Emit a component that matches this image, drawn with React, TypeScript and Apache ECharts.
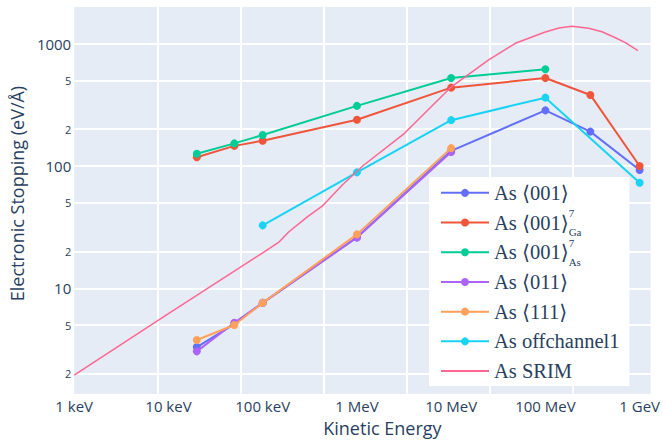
import React, { useEffect, useRef } from 'react';
import * as echarts from 'echarts';

// ---- tick labels ----
const energyTicks = [1e3, 1e4, 1e5, 1e6, 1e7, 1e8, 1e9];
const energyTickLabels = ['1 keV', '10 keV', '100 keV', '1 MeV', '10 MeV', '100 MeV', '1 GeV'];
const stoppingTicks = [2, 5, 10, 20, 50, 100, 200, 500, 1000];
const stoppingTickLabels = ['2', '5', '10', '2', '5', '100', '2', '5', '1000'];
const stoppingMajorTicks = [10, 100, 1000];

// ---- energies (eV) ----
const energyFull = [2e4, 5e4, 1e5, 1e6, 1e7, 1e8, 3e8, 1e9];
const energyAs = [2e4, 5e4, 1e5, 1e6, 1e7, 1e8];
const energyShort = [2e4, 5e4, 1e5, 1e6, 1e7];
const energyOff = [1e5, 1e6, 1e7, 1e8, 1e9];

// ---- stopping values (eV/Å) ----
const as001 = [3.31, 5.1, 7.6, 26.1, 133, 285, 191, 92.7];
const as001Ga = [118, 146, 161, 239, 437, 524, 381, 100];
const as001As = [126, 153, 179, 310, 524, 618];
const as011 = [3.05, 5.23, 7.6, 26, 130];
const as111 = [3.78, 5.01, 7.6, 27.6, 140];
const asOff = [32.7, 88.7, 237, 362, 73];

const srimEnergy = [1e3, 1e4, 1e5, 1.5e5, 1.9e5, 3e5, 4.35e5, 7e5, 1.15e6, 3.2e6, 9.8e6, 2.5e7, 4.8e7, 9.8e7, 1.39e8, 1.92e8, 2.88e8, 3.99e8, 5.53e8, 7.06e8, 9.59e8];
const srimStopping = [1.95, 6.2, 19.5, 24, 29, 38.5, 47.5, 70, 100, 185, 437, 736, 1008, 1240, 1344, 1390, 1336, 1253, 1119, 1019, 877];

const seriesNames = ['As ⟨001⟩', 'As ⟨001⟩7Ga', 'As ⟨001⟩7As', 'As ⟨011⟩', 'As ⟨111⟩', 'As offchannel1', 'As SRIM'];
const legendLabels = [
  '{m|As ⟨001⟩}',
  '{m|As ⟨001⟩}{sp|7}{sb|Ga}',
  '{m|As ⟨001⟩}{sp|7}{sb|As}',
  '{m|As ⟨011⟩}',
  '{m|As ⟨111⟩}',
  '{m|As offchannel1}',
  '{m|As SRIM}',
];
const colors = ['#636efa', '#EF553B', '#00cc96', '#ab63fa', '#FFA15A', '#19d3f3', '#FF6692'];

const pairs = (xs: number[], ys: number[]) => xs.map((x, i) => [x, ys[i]]);

const AXIS_COLOR = '#2a3f5f';
const SANS = '"Open Sans", Verdana, Arial, sans-serif';
const SERIF = '"Liberation Serif", "DejaVu Serif", serif';

export default function App() {
  const ref = useRef<HTMLDivElement>(null);
  useEffect(() => {
    if (!ref.current) return;
    const chart = echarts.init(ref.current, undefined, { renderer: 'svg' });
    const dataSets = [
      pairs(energyFull, as001),
      pairs(energyFull, as001Ga),
      pairs(energyAs, as001As),
      pairs(energyShort, as011),
      pairs(energyShort, as111),
      pairs(energyOff, asOff),
      pairs(srimEnergy, srimStopping),
    ];
    const series = dataSets.map((d, i) => {
      const isSrim = i === 6;
      return {
        name: seriesNames[i],
        type: 'line',
        data: d,
        xAxisIndex: 0,
        yAxisIndex: 0,
        symbol: isSrim ? 'none' : 'circle',
        showSymbol: !isSrim,
        symbolSize: 8,
        color: colors[i],
        lineStyle: { width: isSrim ? 1.5 : 2, color: colors[i] },
        itemStyle: { color: colors[i] },
        smooth: false,
        z: 2 + i,
      };
    });
    const option = {
      animation: false,
      backgroundColor: '#ffffff',
      grid: {
        left: 74,
        top: 7,
        right: 11,
        bottom: 48,
        show: true,
        backgroundColor: '#E5ECF6',
        borderWidth: 0,
        containLabel: false,
      },
      legend: {
        orient: 'vertical',
        left: 429,
        top: 177,
        padding: [1, 10, 0, 11],
        itemGap: 0,
        itemWidth: 48,
        itemHeight: 10,
        backgroundColor: '#ffffff',
        data: seriesNames.map((n, i) => (i === 6 ? { name: n, itemStyle: { opacity: 0 } } : { name: n })),
        formatter: (name: string) => legendLabels[seriesNames.indexOf(name)],
        textStyle: {
          fontFamily: SERIF,
          fontSize: 20.5,
          color: AXIS_COLOR,
          lineHeight: 29.7,
          rich: {
            m: { fontFamily: SERIF, fontSize: 20.5, color: AXIS_COLOR, lineHeight: 29.7 },
            sp: { fontFamily: SERIF, fontSize: 11, color: AXIS_COLOR, lineHeight: 21, verticalAlign: 'top', width: 0 },
            sb: { fontFamily: SERIF, fontSize: 11, color: AXIS_COLOR, lineHeight: 15, verticalAlign: 'bottom' },
          },
        },
      },
      xAxis: [
        {
          type: 'log',
          logBase: 10,
          min: 1000,
          max: 1.306e9,
          gridIndex: 0,
          axisLine: { show: false },
          axisTick: { show: false, customValues: energyTicks },
          splitLine: { show: false },
          axisLabel: {
            customValues: energyTicks,
            margin: 4,
            fontSize: 15,
            fontFamily: SANS,
            color: AXIS_COLOR,
            formatter: (v: number) => {
              const idx = energyTicks.findIndex((t) => Math.abs(t - v) / t < 1e-6);
              return idx >= 0 ? energyTickLabels[idx] : '';
            },
          },
          name: 'Kinetic Energy',
          nameLocation: 'middle',
          nameGap: 25,
          nameTextStyle: { fontSize: 18, fontFamily: SANS, color: AXIS_COLOR, padding: [0, 0, 0, 40] },
        },
        {
          type: 'value',
          min: 0,
          max: 6.936,
          interval: 1,
          gridIndex: 0,
          position: 'bottom',
          axisLine: { show: false },
          axisTick: { show: false },
          axisLabel: { show: false },
          splitLine: { show: true, showMinLine: false, showMaxLine: false, lineStyle: { color: '#ffffff', width: 2 } },
        },
      ],
      yAxis: [
        {
          type: 'log',
          logBase: 10,
          min: 1.367,
          max: 1995,
          gridIndex: 0,
          axisLine: { show: false },
          axisTick: { show: false, customValues: stoppingTicks },
          splitLine: { show: true, lineStyle: { color: '#ffffff', width: 2 } },
          axisLabel: {
            customValues: stoppingTicks,
            margin: 3,
            color: AXIS_COLOR,
            fontFamily: SANS,
            formatter: (v: number) => {
              const r = Math.round(v);
              const idx = stoppingTicks.indexOf(r);
              const txt = idx >= 0 ? stoppingTickLabels[idx] : String(r);
              return stoppingMajorTicks.includes(r) ? `{big|${txt}}` : `{small|${txt}}`;
            },
            rich: {
              big: { fontSize: 15, fontFamily: SANS, color: AXIS_COLOR },
              small: { fontSize: 11, fontFamily: SANS, color: AXIS_COLOR },
            },
          },
          name: 'Electronic Stopping (eV/Å)',
          nameLocation: 'middle',
          nameGap: 44,
          nameTextStyle: { fontSize: 18, fontFamily: SANS, color: AXIS_COLOR, padding: [0, 0, 0, 14] },
        },
      ],
      series,
    };
    chart.setOption(option as any);
    return () => chart.dispose();
  }, []);
  return (
    <div
      ref={ref}
      style={{ position: 'fixed', left: 0, top: 0, width: 663, height: 442, background: '#fff' }}
    />
  );
}
